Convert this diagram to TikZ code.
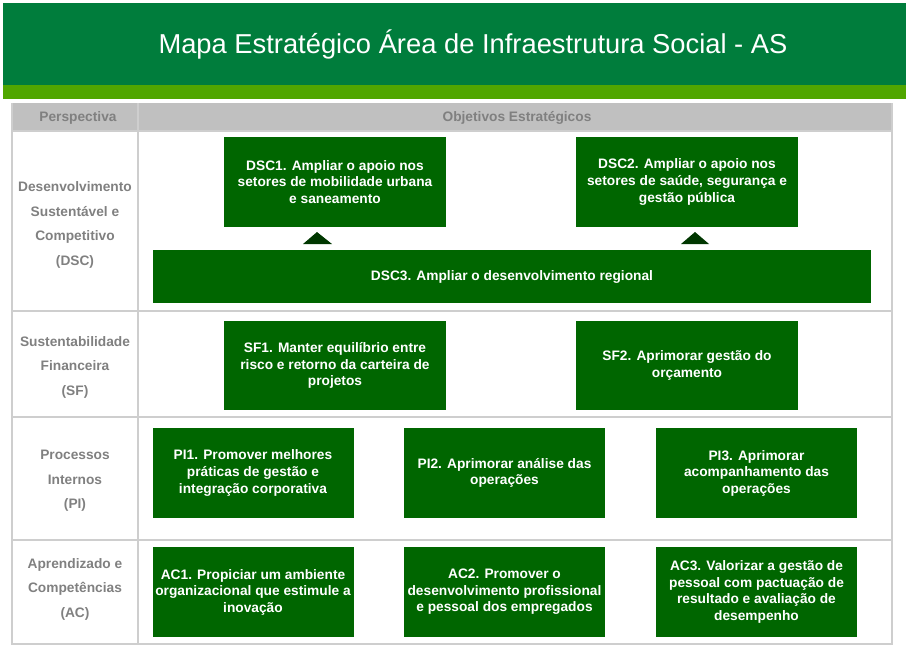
\documentclass[tikz,border=0pt]{standalone}
\usepackage{fontspec}
\setmainfont{Liberation Sans}
\definecolor{bannergreen}{RGB}{0,125,60}
\definecolor{stripgreen}{RGB}{80,166,0}
\definecolor{boxgreen}{RGB}{0,102,0}
\definecolor{tridark}{RGB}{0,55,0}
\definecolor{headgray}{RGB}{192,192,192}
\definecolor{linegray}{RGB}{206,206,206}
\definecolor{textgray}{RGB}{128,128,128}
\tikzset{
  objective/.style={fill=boxgreen,text=white,align=center,inner sep=0pt,
    font=\fontsize{10.3}{12.4}\selectfont\bfseries},
  upperobj/.style={objective,minimum width=166.5pt,minimum height=67pt},
  lowerobj/.style={objective,minimum width=150.75pt,minimum height=67.5pt},
  perspective/.style={text=textgray,align=center,inner sep=0pt,
    font=\fontsize{10.3}{18.4}\selectfont\bfseries},
  gridline/.style={draw=linegray,line width=1.2pt}
}
\begin{document}
\begin{tikzpicture}[x=0.75pt,y=-0.75pt]
\useasboundingbox (0,0) rectangle (909,650);
\fill[bannergreen] (3,3) rectangle (906,85);
\fill[stripgreen] (3,85) rectangle (906,99);
\node[text=white,font=\fontsize{20.5}{24}\selectfont] (title) at (473,44) {Mapa Estratégico Área de Infraestrutura Social - AS};
\fill[headgray] (12,103) rectangle (892,131);
\draw[gridline] (12,103) -- (12,644) -- (892,644) -- (892,103);
\draw[gridline] (138,103) -- (138,644);
\draw[gridline] (12,131) -- (892,131);
\draw[gridline] (12,311) -- (892,311);
\draw[gridline] (12,417) -- (892,417);
\draw[gridline] (12,540) -- (892,540);
\node[perspective] (hpersp) at (78,118) {Perspectiva};
\node[perspective] (hobj) at (517,118) {Objetivos Estratégicos};
\node[perspective] (pdsc) at (75,225) {Desenvolvimento\\Sustentável e\\Competitivo\\(DSC)};
\node[perspective] (psf) at (75,367) {Sustentabilidade\\Financeira\\(SF)};
\node[perspective] (ppi) at (75,481) {Processos\\Internos\\(PI)};
\node[perspective] (pac) at (75,589) {Aprendizado e\\Competências\\(AC)};
\node[upperobj] (dsc1) at (335,182) {DSC1. Ampliar o apoio nos\\setores de mobilidade urbana\\e saneamento};
\node[upperobj] (dsc2) at (687,182) {DSC2. Ampliar o apoio nos\\setores de saúde, segurança e\\gestão pública};
\node[objective,minimum width=538.5pt,minimum height=39.75pt] (dsc3) at (512,276.5) {DSC3. Ampliar o desenvolvimento regional};
\fill[tridark] (303,244) -- (317,232) -- (332,244) -- cycle;
\fill[tridark] (681,244) -- (695,232) -- (709,244) -- cycle;
\node[upperobj] (sf1) at (335,365.5) {SF1. Manter equilíbrio entre\\risco e retorno da carteira de\\projetos};
\node[upperobj] (sf2) at (687,365.5) {SF2. Aprimorar gestão do\\orçamento};
\node[lowerobj] (pi1) at (253,473) {PI1. Promover melhores\\práticas de gestão e\\integração corporativa};
\node[lowerobj] (pi2) at (504.5,473) {PI2. Aprimorar análise das\\operações};
\node[lowerobj] (pi3) at (756.5,473) {PI3. Aprimorar\\acompanhamento das\\operações};
\node[lowerobj] (ac1) at (253,592) {AC1. Propiciar um ambiente\\organizacional que estimule a\\inovação};
\node[lowerobj] (ac2) at (504.5,592) {AC2. Promover o\\desenvolvimento profissional\\e pessoal dos empregados};
\node[lowerobj] (ac3) at (756.5,592) {AC3. Valorizar a gestão de\\pessoal com pactuação de\\resultado e avaliação de\\desempenho};
\end{tikzpicture}
\end{document}
